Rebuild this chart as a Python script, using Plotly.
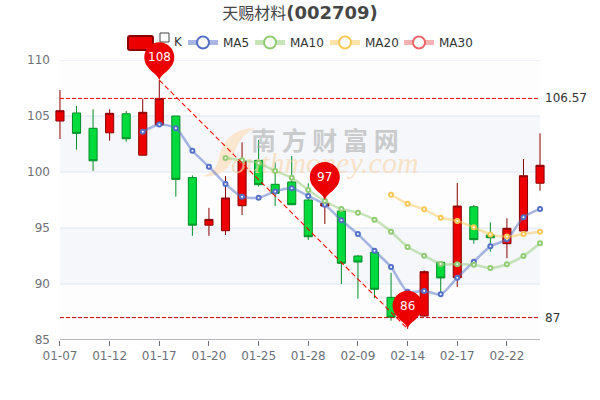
import plotly.graph_objects as go

categories = ["01-07","01-10","01-11","01-12","01-13","01-14","01-17","01-18","01-19","01-20",
              "01-21","01-24","01-25","01-26","01-27","01-28","02-07","02-08","02-09","02-10",
              "02-11","02-14","02-15","02-16","02-17","02-18","02-21","02-22","02-23","02-24"]
tick_labels = ["01-07","01-12","01-17","01-20","01-25","01-28","02-09","02-14","02-17","02-22"]
opens = [104.55,105.27,103.9,103.5,105.2,101.5,104.2,105.0,99.5,95.25,
         94.76,96.99,101.04,98.9,99.11,97.5,96.96,96.52,92.5,92.83,
         88.81,86.72,87.14,91.94,90.56,96.9,94.38,93.6,94.73,99.0]
closes = [105.47,103.45,101.0,105.24,102.97,105.33,106.57,99.34,95.25,95.77,
          97.68,100.98,98.87,98.1,97.08,94.22,97.2,91.85,91.96,89.53,
          87.03,88.0,91.1,90.54,96.96,93.96,94.13,94.97,99.67,100.6]
highs = [107.32,105.9,105.6,105.6,105.45,106.55,108.2,105.0,99.7,96.8,
         99.64,102.65,102.86,100.87,101.43,98.99,97.5,96.88,92.59,93.04,
         91.0,88.5,91.22,91.99,99.02,97.05,95.51,95.87,101.16,103.46]
lows = [102.95,102.0,100.1,102.8,102.7,101.5,104.2,97.8,94.3,94.3,
        94.38,96.16,98.69,96.96,97.03,93.93,95.36,90.0,88.69,88.72,
        86.72,86.0,87.08,89.17,89.73,93.6,92.88,92.29,94.73,98.33]
ma5 = [None]*5 + [103.6,104.25,103.9,101.9,100.47,98.93,97.8,97.7,98.27,98.54,
       97.86,97.08,95.69,94.46,92.97,91.52,89.3,89.38,89.08,90.56,
       91.99,93.36,93.99,95.95,96.7]
ma10 = [None]*10 + [101.25,101.04,100.8,100.09,99.49,98.39,97.41,96.7,96.37,95.74,
        94.67,93.3,92.53,91.79,91.76,91.72,91.43,91.76,92.5,93.63]
ma20 = [None]*20 + [97.97,97.17,96.67,95.92,95.63,95.06,94.43,94.23,94.46,94.67]
ma30 = [None]*30
y_ticks = [85,90,95,100,105,110]
max_close = 106.57
min_close = 87
pin_cats = ["01-17","02-07","02-14"]
pin_vals = [108.2,97.5,86]
pin_labels = ["108","97","86"]

L, T, W, H = 55, 60, 490, 280
X_RANGE = [-0.3, 29.3]
Y_RANGE = [85, 110]
FONT = "DejaVu Sans, Noto Sans CJK SC"
def px_x(x): return x - L
def px_y(y): return T - y
def paper_x(cat): return (categories.index(cat) - X_RANGE[0]) / (X_RANGE[1] - X_RANGE[0])
def paper_y(val): return (val - Y_RANGE[0]) / (Y_RANGE[1] - Y_RANGE[0])

fig = go.Figure()
fig.add_trace(go.Candlestick(x=categories, open=opens, high=highs, low=lows, close=closes, name="K",
    increasing=dict(line=dict(color="#8A0000", width=1), fillcolor="#ec0000"),
    decreasing=dict(line=dict(color="#008F28", width=1), fillcolor="#00da3c"),
    whiskerwidth=0, showlegend=False, hoverinfo="skip"))

# watermark
fig.add_trace(go.Scatter(x=["02-07"], y=[102.5], mode="text", text=["南 方 财 富 网"], showlegend=False, hoverinfo="skip",
    textfont=dict(family="Noto Sans CJK SC", size=25, color="rgba(165,165,165,0.55)", weight="bold")))
fig.add_trace(go.Scatter(x=["02-07"], y=[100.55], mode="text", text=["outhmoney.com"], showlegend=False, hoverinfo="skip",
    textfont=dict(family="Liberation Serif", size=30, color="rgba(250,215,175,0.7)", style="italic")))

legend_left = [183, 250, 325, 399]
legend_ids = ["legend", "legend2", "legend3", "legend4"]
for i, (name, vals, color, rgba) in enumerate([("MA5", ma5, "#5470C6", "rgba(84,112,198,0.5)"),
                                ("MA10", ma10, "#91CC75", "rgba(145,204,117,0.5)"),
                                ("MA20", ma20, "#FAC858", "rgba(250,200,88,0.5)"),
                                ("MA30", ma30, "#EE6666", "rgba(238,102,102,0.5)")]):
    fig.add_trace(go.Scatter(x=categories, y=vals, name=name, mode="lines+markers", hoverinfo="skip", legend=legend_ids[i],
        line=dict(color=rgba, width=2.5, shape="spline", smoothing=0.7),
        marker=dict(size=4, color="white", line=dict(color=color, width=2))))

# mark lines
fig.add_trace(go.Scatter(x=[categories[0], categories[-1]], y=[max_close, max_close], mode="lines", showlegend=False,
    hoverinfo="skip", line=dict(color="#f00000", width=1, dash="4px,2px")))
fig.add_trace(go.Scatter(x=[categories[0], categories[-1]], y=[min_close, min_close], mode="lines", showlegend=False,
    hoverinfo="skip", line=dict(color="#c80000", width=1, dash="4px,2px")))
fig.add_trace(go.Scatter(x=[pin_cats[0], pin_cats[2]], y=[pin_vals[0], pin_vals[2]], mode="lines", showlegend=False,
    hoverinfo="skip", line=dict(color="#ff0000", width=1.1, dash="5px,3px")))

shapes = []
# bands and grid
for i in range(len(y_ticks) - 1):
    shaded = i % 2 == 1
    shapes.append(dict(type="rect", xref="x", yref="y", x0=categories[0], x1=categories[-1], y0=y_ticks[i], y1=y_ticks[i+1],
                       fillcolor="#f5f7fb" if shaded else "#fdfdfd", line=dict(width=0), layer="below"))
for v in y_ticks[1:]:
    shapes.append(dict(type="line", xref="x", yref="y", x0=categories[0], x1=categories[-1], y0=v, y1=v,
                       line=dict(color="#E0E6F1", width=1), layer="below"))
shapes.append(dict(type="line", xref="x", yref="y", x0=categories[0], x1=categories[-1], y0=85, y1=85,
                   line=dict(color="#6E7079", width=1), layer="above"))
# logo swoosh, anchored on the plot's top-left data corner (pixel 60,60)
pts = [(255,128),(235,128),(222,140),(219,158),(217,168),(212,173),(203,176),(215,178),(228,172),(232,160),(236,145),(243,134),(255,128)]
c = [f"{a-60},{60-b}" for a, b in pts]
swoosh = f"M{c[0]} C{c[1]} {c[2]} {c[3]} C{c[4]} {c[5]} {c[6]} C{c[7]} {c[8]} {c[9]} C{c[10]} {c[11]} {c[12]} Z"
shapes.append(dict(type="path", path=swoosh, xref="x", yref="y", xsizemode="pixel", ysizemode="pixel",
                   xanchor=categories[0], yanchor=Y_RANGE[1], fillcolor="#fbe6cf", line=dict(width=0), layer="below"))
# K legend icon
icon = (f"M{px_x(130)},{px_y(36)} L{px_x(151)},{px_y(36)} Q{px_x(153)},{px_y(36)} {px_x(153)},{px_y(38)} "
        f"L{px_x(153)},{px_y(48)} Q{px_x(153)},{px_y(50)} {px_x(151)},{px_y(50)} L{px_x(130)},{px_y(50)} "
        f"Q{px_x(128)},{px_y(50)} {px_x(128)},{px_y(48)} L{px_x(128)},{px_y(38)} Q{px_x(128)},{px_y(36)} {px_x(130)},{px_y(36)} Z")
shapes.append(dict(type="path", path=icon, xref="paper", yref="paper", xsizemode="pixel", ysizemode="pixel",
                   xanchor=0, yanchor=1, fillcolor="#ec0000", line=dict(color="#8A0000", width=2), layer="above"))
square = f"M{px_x(160)},{px_y(33)} L{px_x(169)},{px_y(33)} L{px_x(169)},{px_y(42)} L{px_x(160)},{px_y(42)} Z"
shapes.append(dict(type="path", path=square, xref="paper", yref="paper", xsizemode="pixel", ysizemode="pixel",
                   xanchor=0, yanchor=1, fillcolor="rgba(0,0,0,0)", line=dict(color="#444", width=1), layer="above"))
# pins
pin = ("M0,0 C-2,6 -8,8 -11.4,13.2 C-13.8,15.8 -15,19.3 -15,23 C-15,31.3 -8.28,38 0,38 "
       "C8.28,38 15,31.3 15,23 C15,19.3 13.8,15.8 11.4,13.2 C8,8 2,6 0,0 Z")
annotations = []
for cat, val, lab in zip(pin_cats, pin_vals, pin_labels):
    shapes.append(dict(type="path", path=pin, xref="paper", yref="paper", xsizemode="pixel", ysizemode="pixel",
                       xanchor=paper_x(cat), yanchor=paper_y(val), fillcolor="#ec0000", line=dict(width=0), layer="above"))
    annotations.append(dict(x=cat, y=val, xref="x", yref="y", text=lab, showarrow=False, yshift=23,
                            font=dict(family=FONT, size=12, color="white")))
for val, lab in [(max_close, "106.57"), (min_close, "87")]:
    annotations.append(dict(x=1, y=val, xref="paper", yref="y", text=lab, showarrow=False, xanchor="left",
                            xshift=-2, font=dict(family=FONT, size=12, color="#333")))
annotations.append(dict(x=(174-L)/W, y=1+(T-42)/H, xref="paper", yref="paper", text="K", showarrow=False, xanchor="left",
                        yanchor="middle", xshift=-2, font=dict(family=FONT, size=12, color="#333")))

legends = {}
for lid, left in zip(legend_ids, legend_left):
    legends[lid] = dict(orientation="h", x=(left-L)/W, xanchor="left", y=1+(T-28)/H, yanchor="top", itemsizing="constant",
                        font=dict(family=FONT, size=12, color="#333"), bgcolor="rgba(0,0,0,0)")

fig.update_layout(
    width=600, height=400, autosize=False, paper_bgcolor="white", plot_bgcolor="rgba(0,0,0,0)",
    margin=dict(l=L, r=600-L-W, t=T, b=400-T-H, pad=0),
    title=dict(text="<span style='font-family:Noto Sans CJK SC;font-size:16px;font-weight:normal'>天赐材料</span><b>(002709)</b>",
               x=0.5, xanchor="center", y=0.968, yanchor="middle", font=dict(family="DejaVu Sans", size=18, color="#464646")),
    xaxis=dict(type="category", categoryorder="array", categoryarray=categories, range=X_RANGE,
               rangeslider=dict(visible=False), showgrid=False, zeroline=False, showline=False,
               tickmode="array", tickvals=tick_labels, ticktext=tick_labels, ticks="outside", ticklen=5, tickwidth=1,
               tickcolor="#6E7079", tickfont=dict(family=FONT, size=12, color="#6E7079")),
    yaxis=dict(range=Y_RANGE, tickmode="array", tickvals=y_ticks, showgrid=False, zeroline=False, showline=False,
               ticks="", ticklabelstandoff=4, tickfont=dict(family=FONT, size=12, color="#6E7079")),
    shapes=shapes, annotations=annotations, showlegend=True, hovermode=False,
    **legends,
)
fig.write_html("out.html", post_script="document.body.style.margin='0';", config=dict(displayModeBar=False))
